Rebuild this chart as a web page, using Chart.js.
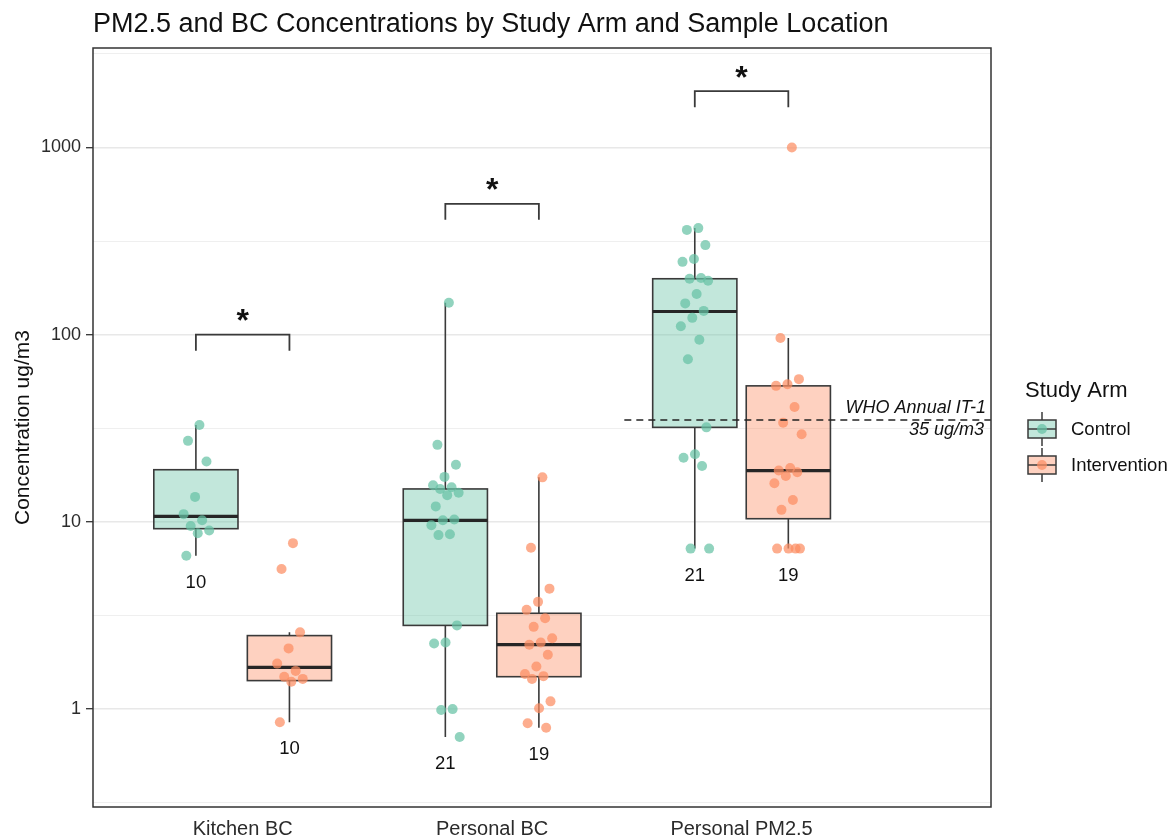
<!DOCTYPE html>
<html>
<head>
<meta charset="utf-8">
<title>PM2.5 and BC Concentrations</title>
<script src="https://cdn.jsdelivr.net/npm/chart.js@4.4.1/dist/chart.umd.min.js"></script>
<style>
  html, body { margin: 0; padding: 0; background: #ffffff; }
  #wrap { width: 1170px; height: 838px; position: relative; }
  canvas { display: block; }
</style>
</head>
<body>
<div id="wrap"><canvas id="chart" width="1170" height="838"></canvas></div>
<script>
// ---- data -------------------------------------------------------------
const categories = ['Kitchen BC', 'Personal BC', 'Personal PM2.5'];
const arms = ['Control', 'Intervention'];

// individual measurements (ug/m3)
const kitchenBcControl = [32.9, 27.1, 21.0, 13.6, 11.0, 10.2, 9.5, 9.0, 8.7, 6.6];
const kitchenBcIntervention = [7.7, 5.6, 2.57, 2.11, 1.75, 1.60, 1.49, 1.45, 1.40, 0.85];
const personalBcControl = [148, 25.8, 20.2, 17.4, 15.7, 15.3, 15.0, 14.3, 13.9, 12.1,
  10.3, 10.2, 9.6, 8.6, 8.5, 2.8, 2.27, 2.24, 1.0, 0.99, 0.71];
const personalBcIntervention = [17.3, 7.27, 4.40, 3.74, 3.39, 3.06, 2.75, 2.39, 2.27, 2.21,
  1.95, 1.69, 1.54, 1.50, 1.45, 1.10, 1.01, 0.84, 0.795];
const personalPmControl = [371, 363, 301, 254, 245, 201, 199, 194, 165, 147,
  134, 123, 111, 94, 74, 32, 23, 22, 19.9, 7.2, 7.2];
const personalPmIntervention = [1000, 96, 57.9, 54.4, 53.3, 41.1, 33.9, 29.4, 19.4, 18.8,
  18.4, 17.6, 16.1, 13.1, 11.6, 7.2, 7.2, 7.2, 7.2];

// box statistics per location (Kitchen BC, Personal BC, Personal PM2.5)
const controlWhiskerLow = [6.6, 0.71, 7.2];
const controlQ1 = [9.2, 2.8, 32.0];
const controlMedian = [10.7, 10.2, 133];
const controlQ3 = [19.0, 15.0, 199];
const controlWhiskerHigh = [32.9, 148, 371];
const interventionWhiskerLow = [0.85, 0.795, 7.2];
const interventionQ1 = [1.42, 1.49, 10.4];
const interventionMedian = [1.67, 2.21, 18.8];
const interventionQ3 = [2.47, 3.25, 53.3];
const interventionWhiskerHigh = [2.57, 17.3, 96];

// significance brackets (height of bracket, label)
const bracketHeights = [100, 500, 2000];
const bracketLabels = ['*', '*', '*'];

// WHO interim target reference line
const whoValue = 35;
const whoLabelLines = ['WHO Annual IT-1', '35 ug/m3'];
const whoStartX = 2.53;

// axis ticks
const yMajorTicks = [1, 10, 100, 1000];

// ---- appearance --------------------------------------------------------
const FONT = '"Liberation Sans", Arial, Helvetica, sans-serif';
const fillColors = ['rgba(102,194,165,0.4)', 'rgba(252,141,98,0.4)'];
const pointColors = ['rgba(102,194,165,0.72)', 'rgba(252,141,98,0.72)'];
const dodge = 0.1875;
const boxWidth = 0.3375;
const jitterWidth = 0.12;

const samples = {
  Control: [kitchenBcControl, personalBcControl, personalPmControl],
  Intervention: [kitchenBcIntervention, personalBcIntervention, personalPmIntervention]
};
const boxStats = {
  Control: { low: controlWhiskerLow, q1: controlQ1, med: controlMedian, q3: controlQ3, high: controlWhiskerHigh },
  Intervention: { low: interventionWhiskerLow, q1: interventionQ1, med: interventionMedian, q3: interventionQ3, high: interventionWhiskerHigh }
};
const armOffset = [-dodge, dodge];

// spread points sideways with a fixed, repeatable pattern
function jitter(k) {
  return (((k + 1) * 0.6180339887) % 1 - 0.5) * jitterWidth;
}

const datasets = arms.map((arm, a) => ({
  label: arm,
  data: samples[arm].flatMap((vals, i) =>
    vals.map((v, k) => ({ x: i + 1 + armOffset[a] + jitter(k), y: v }))),
  backgroundColor: pointColors[a],
  borderWidth: 0,
  pointRadius: 5,
  pointHoverRadius: 5,
  pointBorderWidth: 0
}));

// minor grid lines halfway between decades (log space)
const yMinorTicks = [yMajorTicks[0] / Math.sqrt(10)].concat(yMajorTicks.map(v => v * Math.sqrt(10)));
const yAllTicks = yMajorTicks.concat(yMinorTicks).sort((p, q) => p - q);
const isMajor = v => yMajorTicks.some(m => Math.abs(m - v) < 1e-9);

// ---- plugins -----------------------------------------------------------
const boxPlotPlugin = {
  id: 'boxPlot',
  beforeDatasetsDraw(chart) {
    const { ctx, scales: { x, y } } = chart;
    const half = (x.getPixelForValue(boxWidth) - x.getPixelForValue(0)) / 2;
    ctx.save();
    arms.forEach((arm, a) => {
      const s = boxStats[arm];
      categories.forEach((cat, i) => {
        const cx = x.getPixelForValue(i + 1 + armOffset[a]);
        const yLow = y.getPixelForValue(s.low[i]);
        const yQ1 = y.getPixelForValue(s.q1[i]);
        const yMed = y.getPixelForValue(s.med[i]);
        const yQ3 = y.getPixelForValue(s.q3[i]);
        const yHigh = y.getPixelForValue(s.high[i]);
        // whiskers
        ctx.strokeStyle = '#3a3a3a';
        ctx.lineWidth = 1.6;
        ctx.beginPath();
        ctx.moveTo(cx, yQ3); ctx.lineTo(cx, yHigh);
        ctx.moveTo(cx, yQ1); ctx.lineTo(cx, yLow);
        ctx.stroke();
        // box
        ctx.fillStyle = fillColors[a];
        ctx.fillRect(cx - half, yQ3, 2 * half, yQ1 - yQ3);
        ctx.strokeRect(cx - half, yQ3, 2 * half, yQ1 - yQ3);
        // median
        ctx.strokeStyle = '#262626';
        ctx.lineWidth = 3.2;
        ctx.beginPath();
        ctx.moveTo(cx - half, yMed); ctx.lineTo(cx + half, yMed);
        ctx.stroke();
        ctx.lineWidth = 1.6;
        // sample size under the lower whisker
        ctx.fillStyle = '#111';
        ctx.font = '18.5px ' + FONT;
        ctx.textAlign = 'center';
        ctx.textBaseline = 'middle';
        ctx.fillText(String(samples[arm][i].length), cx, yLow + 27);
      });
    });
    ctx.restore();
  },
  afterDatasetsDraw(chart) {
    const { ctx, chartArea: area, scales: { x, y } } = chart;
    ctx.save();
    // significance brackets
    bracketHeights.forEach((h, i) => {
      const xl = x.getPixelForValue(i + 1 - dodge);
      const xr = x.getPixelForValue(i + 1 + dodge);
      const yb = y.getPixelForValue(h);
      ctx.strokeStyle = '#3a3a3a';
      ctx.lineWidth = 1.8;
      ctx.beginPath();
      ctx.moveTo(xl, yb + 16); ctx.lineTo(xl, yb); ctx.lineTo(xr, yb); ctx.lineTo(xr, yb + 16);
      ctx.stroke();
      ctx.fillStyle = '#111';
      ctx.font = 'bold 32px ' + FONT;
      ctx.textAlign = 'center';
      ctx.textBaseline = 'alphabetic';
      ctx.fillText(bracketLabels[i], x.getPixelForValue(i + 1), yb - 22 + 0.58 * 32);
    });
    // WHO reference line
    const yw = y.getPixelForValue(whoValue);
    ctx.strokeStyle = '#222';
    ctx.lineWidth = 1.5;
    ctx.setLineDash([7, 5]);
    ctx.beginPath();
    ctx.moveTo(x.getPixelForValue(whoStartX), yw);
    ctx.lineTo(area.right, yw);
    ctx.stroke();
    ctx.setLineDash([]);
    ctx.fillStyle = '#111';
    ctx.font = 'italic 18px ' + FONT;
    ctx.textAlign = 'right';
    ctx.textBaseline = 'middle';
    ctx.fillText(whoLabelLines[0], area.right - 5, yw - 12);
    ctx.fillText(whoLabelLines[1], area.right - 7, yw + 10);
    // panel border
    ctx.strokeStyle = '#333';
    ctx.lineWidth = 1.5;
    ctx.strokeRect(area.left, area.top, area.right - area.left, area.bottom - area.top);
    ctx.restore();
  },
  afterDraw(chart) {
    const { ctx, chartArea: area } = chart;
    ctx.save();
    // title
    ctx.fillStyle = '#111';
    ctx.font = '27px ' + FONT;
    ctx.textAlign = 'left';
    ctx.textBaseline = 'alphabetic';
    ctx.fillText('PM2.5 and BC Concentrations by Study Arm and Sample Location', area.left, 32);
    // y axis title
    ctx.save();
    ctx.translate(23, (area.top + area.bottom) / 2);
    ctx.rotate(-Math.PI / 2);
    ctx.font = '21px ' + FONT;
    ctx.textAlign = 'center';
    ctx.textBaseline = 'middle';
    ctx.fillText('Concentration ug/m3', 0, 0);
    ctx.restore();
    // legend
    const lx = area.right + 34;
    ctx.font = '22px ' + FONT;
    ctx.textAlign = 'left';
    ctx.textBaseline = 'middle';
    ctx.fillText('Study Arm', lx, 391);
    arms.forEach((arm, a) => {
      const cy = 429 + a * 36;
      const kx = lx + 3, kw = 28, kcx = kx + kw / 2;
      ctx.strokeStyle = '#3a3a3a';
      ctx.lineWidth = 1.5;
      ctx.beginPath();
      ctx.moveTo(kcx, cy - 17); ctx.lineTo(kcx, cy + 17);
      ctx.stroke();
      ctx.fillStyle = '#ffffff';
      ctx.fillRect(kx, cy - 9, kw, 18);
      ctx.fillStyle = fillColors[a];
      ctx.fillRect(kx, cy - 9, kw, 18);
      ctx.strokeRect(kx, cy - 9, kw, 18);
      ctx.beginPath();
      ctx.moveTo(kx, cy); ctx.lineTo(kx + kw, cy);
      ctx.stroke();
      ctx.fillStyle = pointColors[a];
      ctx.beginPath();
      ctx.arc(kcx, cy, 5, 0, Math.PI * 2);
      ctx.fill();
      ctx.fillStyle = '#111';
      ctx.font = '18.5px ' + FONT;
      ctx.fillText(arm, lx + 46, cy + 1);
    });
    ctx.restore();
  }
};

// ---- chart -------------------------------------------------------------
Chart.defaults.font.family = FONT;

new Chart(document.getElementById('chart'), {
  type: 'scatter',
  data: { datasets },
  options: {
    responsive: false,
    devicePixelRatio: 1,
    animation: false,
    events: [],
    layout: { padding: { left: 0, right: 179, top: 48, bottom: 0 } },
    plugins: {
      legend: { display: false },
      tooltip: { enabled: false },
      title: { display: false }
    },
    scales: {
      x: {
        type: 'linear',
        min: 0.4,
        max: 4.0,
        afterBuildTicks(scale) {
          scale.ticks = categories.map((c, i) => ({ value: i + 1 }));
        },
        afterFit(scale) { scale.height = 31; },
        ticks: {
          autoSkip: false,
          maxRotation: 0,
          padding: 10,
          color: '#2b2b2b',
          font: { size: 20 },
          callback: v => categories[v - 1]
        },
        grid: { display: false, drawTicks: false, tickLength: 0 },
        border: { display: false }
      },
      y: {
        type: 'logarithmic',
        min: 0.31,
        max: 3400,
        afterBuildTicks(scale) {
          scale.ticks = yAllTicks.map(v => ({ value: v, major: isMajor(v) }));
        },
        afterFit(scale) { scale.width = 93; },
        ticks: {
          autoSkip: false,
          padding: 5,
          color: '#2b2b2b',
          font: { size: 18 },
          callback: v => (isMajor(v) ? String(v) : '')
        },
        grid: {
          color: ctx => (ctx.tick && isMajor(ctx.tick.value) ? '#e8e8e8' : '#efefef'),
          lineWidth: ctx => (ctx.tick && isMajor(ctx.tick.value) ? 1.4 : 1),
          tickColor: ctx => (ctx.tick && isMajor(ctx.tick.value) ? '#333' : 'rgba(0,0,0,0)'),
          tickWidth: 1.3,
          tickLength: 7,
          drawTicks: true
        },
        border: { display: false }
      }
    }
  },
  plugins: [boxPlotPlugin]
});
</script>
</body>
</html>
